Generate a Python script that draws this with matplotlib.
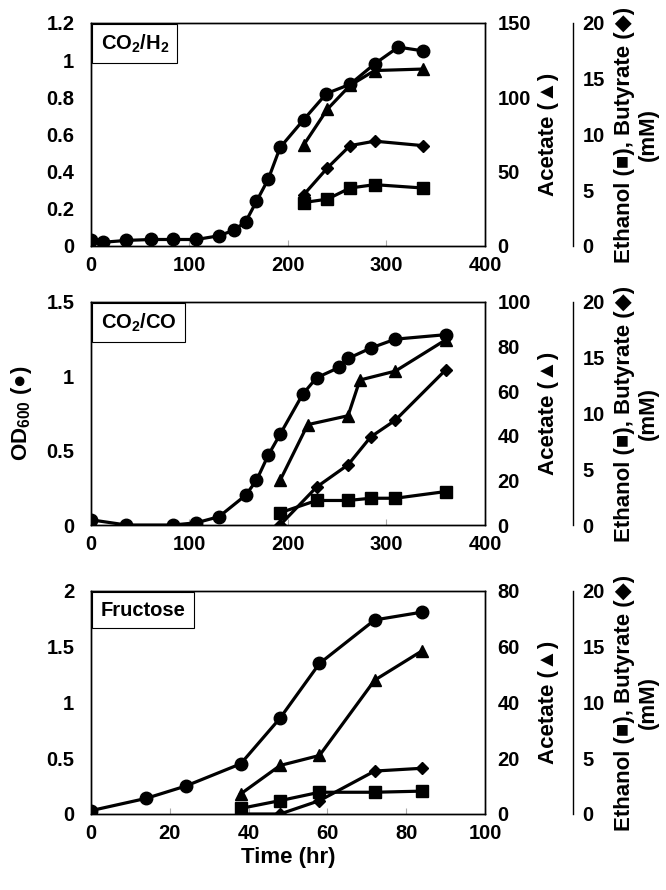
import matplotlib
matplotlib.use("Agg")
import matplotlib.pyplot as plt
from matplotlib.ticker import FuncFormatter

plt.rcParams['font.family'] = ['Liberation Sans', 'DejaVu Sans']
plt.rcParams['font.weight'] = 'bold'
plt.rcParams['mathtext.fontset'] = 'custom'
plt.rcParams['mathtext.rm'] = 'Liberation Sans:bold'
plt.rcParams['mathtext.it'] = 'Liberation Sans:bold'
plt.rcParams['mathtext.bf'] = 'Liberation Sans:bold'
plt.rcParams['mathtext.default'] = 'rm'
plt.rcParams['mathtext.fallback'] = 'stixsans'

# CO2/H2 panel
h2_od_t = [0, 12, 36, 61, 83, 107, 130, 145, 157, 168, 180, 192, 216, 239, 263, 288, 312, 337]
h2_od = [0.03, 0.02, 0.03, 0.035, 0.035, 0.035, 0.055, 0.085, 0.13, 0.24, 0.36, 0.53, 0.68, 0.82, 0.87, 0.98, 1.07, 1.05]
h2_prod_t = [216, 240, 263, 288, 337]
h2_acetate = [68, 92, 108, 118, 119]
h2_butyrate = [4.6, 7.0, 9.0, 9.4, 9.0]
h2_ethanol = [3.9, 4.2, 5.2, 5.5, 5.2]

# CO2/CO panel
co_od_t = [0, 36, 83, 107, 130, 157, 168, 180, 192, 215, 229, 252, 261, 284, 309, 360]
co_od = [0.035, 0.0, 0.0, 0.015, 0.056, 0.2, 0.3, 0.47, 0.61, 0.88, 0.99, 1.06, 1.12, 1.19, 1.25, 1.28]
co_ac_t = [192, 220, 261, 273, 309, 360]
co_acetate = [20, 45, 49, 65, 69, 83]
co_prod_t = [192, 229, 261, 284, 309, 360]
co_butyrate = [0.0, 3.4, 5.4, 7.9, 9.4, 13.9]
co_ethanol = [1.1, 2.2, 2.2, 2.4, 2.4, 3.0]

# Fructose panel
fr_od_t = [0, 14, 24, 38, 48, 58, 72, 84]
fr_od = [0.03, 0.14, 0.25, 0.45, 0.86, 1.35, 1.74, 1.81]
fr_prod_t = [38, 48, 58, 72, 84]
fr_acetate = [7.2, 17.4, 21, 48, 58.5]
fr_butyrate = [0.0, 0.0, 1.2, 3.85, 4.1]
fr_ethanol = [0.5, 1.2, 1.95, 1.95, 2.05]

panels = [
    dict(name="CO$_2$/H$_2$", od_t=h2_od_t, od=h2_od, ac_t=h2_prod_t, ac=h2_acetate,
         pr_t=h2_prod_t, bu=h2_butyrate, et=h2_ethanol,
         xmax=400, xstep=100, odmax=1.2, odstep=0.2, acmax=150, acstep=50, bottom=0.7236),
    dict(name="CO$_2$/CO", od_t=co_od_t, od=co_od, ac_t=co_ac_t, ac=co_acetate,
         pr_t=co_prod_t, bu=co_butyrate, et=co_ethanol,
         xmax=400, xstep=100, odmax=1.5, odstep=0.5, acmax=100, acstep=20, bottom=0.4101),
    dict(name="Fructose", od_t=fr_od_t, od=fr_od, ac_t=fr_prod_t, ac=fr_acetate,
         pr_t=fr_prod_t, bu=fr_butyrate, et=fr_ethanol,
         xmax=100, xstep=20, odmax=2.0, odstep=0.5, acmax=80, acstep=20, bottom=0.0854),
]

fig = plt.figure(figsize=(6.66, 8.9), dpi=100)
fs = 14.5
lfs = 16
lw = 2.3
gfmt = FuncFormatter(lambda v, p: "%g" % round(v, 3))


def bold_ticks(a):
    for t in a.get_xticklabels() + a.get_yticklabels():
        t.set_fontweight('bold')


for i, p in enumerate(panels):
    ax = fig.add_axes([0.1366, p['bottom'], 0.5916, 0.2506])
    ax2 = ax.twinx()
    ax3 = ax.twinx()
    ax3.spines['right'].set_position(('axes', 1.2234))
    for s in ['top', 'left', 'bottom']:
        ax3.spines[s].set_visible(False)
    for a in (ax, ax2, ax3):
        a.set_xlim(0, p['xmax'])

    ax.plot(p['od_t'], p['od'], color='black', lw=lw, marker='o', ms=9, zorder=5)
    ax2.plot(p['ac_t'], p['ac'], color='black', lw=lw, marker='^', ms=9)
    ax3.plot(p['pr_t'], p['bu'], color='black', lw=lw, marker='D', ms=6)
    ax3.plot(p['pr_t'], p['et'], color='black', lw=lw, marker='s', ms=8.5)

    ax.set_ylim(0, p['odmax'])
    n = int(round(p['odmax'] / p['odstep']))
    ax.set_yticks([k * p['odstep'] for k in range(n + 1)])
    ax.yaxis.set_major_formatter(gfmt)
    ax.set_xticks(range(0, p['xmax'] + 1, p['xstep']))
    ax.tick_params(axis='x', direction='in', length=4, color='#aaaaaa', pad=7, labelsize=fs)
    ax.tick_params(axis='y', length=0, pad=12, labelsize=fs)

    ax2.set_ylim(0, p['acmax'])
    ax2.set_yticks(range(0, p['acmax'] + 1, p['acstep']))
    ax2.tick_params(axis='y', length=0, pad=9, labelsize=fs)

    ax3.set_ylim(0, 20)
    ax3.set_yticks(range(0, 21, 5))
    ax3.tick_params(axis='y', length=0, pad=7, labelsize=fs)
    ax3.spines['right'].set_linewidth(1.0)

    for a in (ax, ax2, ax3):
        bold_ticks(a)
    for a in (ax, ax2):
        for s in a.spines.values():
            s.set_linewidth(1.0)

    ax.annotate(p['name'], xy=(0, 1), xycoords='axes fraction', xytext=(7, -7),
                textcoords='offset points', ha='left', va='top', fontsize=fs,
                fontweight='bold',
                bbox=dict(boxstyle='square,pad=0.42', fc='white', ec='black', lw=0.8),
                zorder=10)

    ax.text(1.162, 0.5, "Acetate (\u25b2)", transform=ax.transAxes, rotation=90,
            ha='center', va='center', fontsize=lfs, fontweight='bold')
    ax.text(1.385, 0.5, "Ethanol (\u25a0), Butyrate (\u25c6)\n(mM)", transform=ax.transAxes,
            rotation=90, ha='center', va='center', fontsize=lfs, fontweight='bold',
            multialignment='center', linespacing=1.15)

    if i == 2:
        ax.set_xlabel("Time (hr)", fontsize=lfs, fontweight='bold', labelpad=3)

fig.text(0.032, 0.536, "OD$_{600}$ (\u25cf)", rotation=90, ha='center', va='center',
         fontsize=lfs, fontweight='bold')

fig.savefig("out.png", dpi=100)
